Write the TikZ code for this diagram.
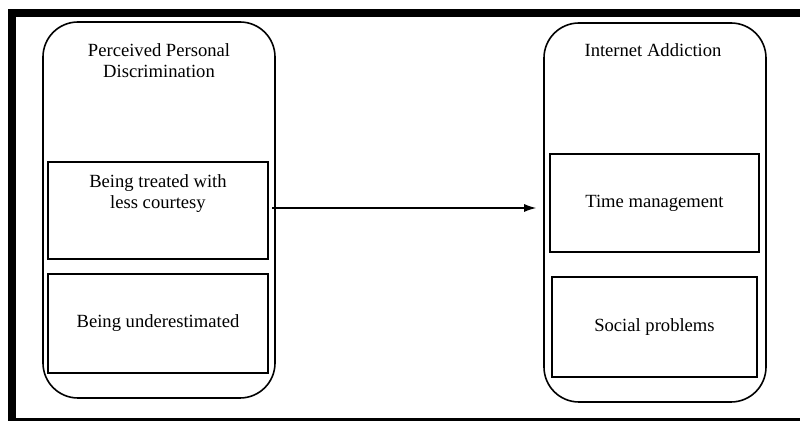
\documentclass[tikz,border=0pt]{standalone}
\usepackage{fontspec}
\setmainfont{Liberation Serif}
\usetikzlibrary{arrows.meta}
\usetikzlibrary{positioning}

\begin{document}
\begin{tikzpicture}[x=0.5pt, y=-0.5pt,
        groupbox/.style={draw, line width=0.8pt, rounded corners=17.5pt},
        itembox/.style={draw, line width=0.6pt},
        font=\fontsize{9.3}{10.5}\selectfont]
        \useasboundingbox (0,0) rectangle (800,421);
        % frame
        \fill (8,9) rectangle (800,17);
        \fill (8,9) rectangle (16,421);
        \fill (8,418) rectangle (800,421);

        \begin{scope}
            \node [groupbox, minimum width=116pt, minimum height=188pt] (perceived) at (159,210) {};
            \node [align=center] (perceivedtitle) at (159,61) {Perceived Personal\\Discrimination};
            \node [itembox, minimum width=110pt, minimum height=48.5pt] (treat) at (158,210.5) {};
            \node [align=center] (treattext) at (158,194) {Being treated with\\less courtesy};
            \node [itembox, minimum width=110pt, minimum height=49.5pt] (under) at (158,323.5) {Being underestimated};
        \end{scope}

        \begin{scope}
            \node [groupbox, minimum width=111pt, minimum height=189.5pt] (addiction) at (655,212.5) {};
            \node (addictiontitle) at (653,50) {Internet Addiction};
            \node [itembox, minimum width=104.5pt, minimum height=49pt] (time) at (654.5,203) {Time management};
            \node [itembox, minimum width=102.5pt, minimum height=50pt] (social) at (654.5,327) {Social problems};
        \end{scope}

        \draw [-{Latex[length=6pt,width=4pt]}, line width=0.6pt, shorten <=1.8pt, shorten >=3.5pt]
            ([yshift=1.25pt] treat.east) -- ([yshift=1.25pt] treat.east -| addiction.west);
\end{tikzpicture}
\end{document}
